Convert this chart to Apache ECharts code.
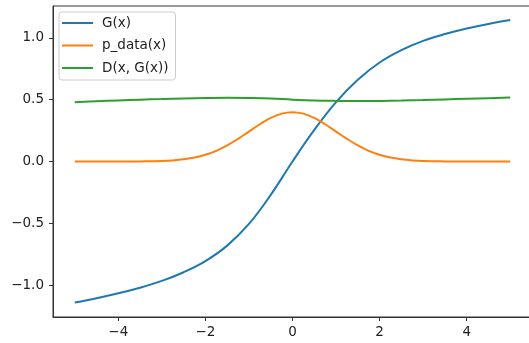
<!DOCTYPE html>
<html>
<head>
<meta charset="utf-8">
<script src="https://cdn.jsdelivr.net/npm/echarts@6/dist/echarts.min.js"></script>
<style>
  html, body { margin: 0; padding: 0; background: #fff; }
  #chart { width: 529px; height: 343px; }
</style>
</head>
<body>
<div id="chart"></div>
<script>
// values
var xCoarse = [-5, -4.5, -4, -3.5, -3, -2.5, -2, -1.5, -1, -0.5, 0, 0.5, 1, 1.5, 2, 2.5, 3, 3.5, 4, 4.5, 5];
var gValues = [-1.14, -1.105, -1.065, -1.02, -0.965, -0.895, -0.805, -0.68, -0.505, -0.27, 0.0, 0.255, 0.48, 0.66, 0.80, 0.90, 0.975, 1.03, 1.075, 1.112, 1.143];
var dValues = [0.478, 0.487, 0.494, 0.500, 0.505, 0.510, 0.513, 0.515, 0.514, 0.510, 0.500, 0.493, 0.490, 0.489, 0.490, 0.493, 0.497, 0.502, 0.507, 0.512, 0.518];

var xFine = [-5, -4.5, -4, -3.75, -3.5, -3.25, -3, -2.75, -2.5, -2.25, -2, -1.75, -1.5, -1.25, -1, -0.75, -0.5, -0.25, 0,
             0.25, 0.5, 0.75, 1, 1.25, 1.5, 1.75, 2, 2.25, 2.5, 2.75, 3, 3.25, 3.5, 3.75, 4, 4.5, 5];
var pValues = [0, 0, 0, 0, 0.001, 0.002, 0.004, 0.009, 0.018, 0.032, 0.054, 0.086, 0.130, 0.183, 0.242, 0.301, 0.352, 0.387, 0.399,
               0.387, 0.352, 0.301, 0.242, 0.183, 0.130, 0.086, 0.054, 0.032, 0.018, 0.009, 0.004, 0.002, 0.001, 0, 0, 0, 0];

var seriesNames = ['G(x)', 'p_data(x)', 'D(x, G(x))'];
var seriesColors = ['#1f77b4', '#ff7f0e', '#2ca02c'];
var xTicks = [-4, -2, 0, 2, 4];
var yTicks = [-1, -0.5, 0, 0.5, 1];

function pairs(xs, ys) {
  return xs.map(function (x, i) { return [x, ys[i]]; });
}
function minus(s) { return s.replace('-', '\u2212'); }

var myChart = echarts.init(document.getElementById('chart'));

var axisText = { color: '#222', fontSize: 13.5, fontFamily: 'DejaVu Sans' };
var lineIcon = 'path://M0,0H31V2H0Z';

var option = {
  animation: false,
  grid: {
    left: 53, top: 6, width: 479, height: 311,
    containLabel: false,
    outerBoundsMode: 'none',
    show: true,
    borderColor: '#333',
    borderWidth: 1
  },
  legend: {
    orient: 'vertical',
    left: 59, top: 12,
    itemWidth: 31, itemHeight: 2,
    itemGap: 8.5,
    padding: [4, 7, 5, 3],
    backgroundColor: 'rgba(255,255,255,0.8)',
    borderColor: '#ccc',
    borderWidth: 1,
    borderRadius: 3,
    textStyle: { color: '#222', fontSize: 13.5, fontFamily: 'DejaVu Sans', lineHeight: 14, padding: [0, 0, 0, 4] },
    data: seriesNames.map(function (n) { return { name: n, icon: lineIcon }; })
  },
  xAxis: {
    type: 'value',
    min: -5.5, max: 5.5,
    splitLine: { show: false },
    axisLine: { onZero: false, lineStyle: { color: '#333', width: 1 } },
    axisTick: { show: true, length: 4, customValues: xTicks, lineStyle: { color: '#333' } },
    axisLabel: Object.assign({
      margin: 8,
      customValues: xTicks,
      formatter: function (v) { return minus(String(v)); }
    }, axisText)
  },
  yAxis: {
    type: 'value',
    min: -1.257, max: 1.257,
    splitLine: { show: false },
    axisLine: { show: true, onZero: false, lineStyle: { color: '#333', width: 1 } },
    axisTick: { show: true, length: 4, customValues: yTicks, lineStyle: { color: '#333' } },
    axisLabel: Object.assign({
      margin: 9,
      customValues: yTicks,
      formatter: function (v) { return minus(v.toFixed(1)); }
    }, axisText)
  },
  series: [
    {
      name: seriesNames[0], type: 'line', data: pairs(xCoarse, gValues),
      symbol: 'none', smooth: 0.4, color: seriesColors[0], lineStyle: { width: 2 }
    },
    {
      name: seriesNames[1], type: 'line', data: pairs(xFine, pValues),
      symbol: 'none', smooth: 0.4, color: seriesColors[1], lineStyle: { width: 2 }
    },
    {
      name: seriesNames[2], type: 'line', data: pairs(xCoarse, dValues),
      symbol: 'none', smooth: 0.4, color: seriesColors[2], lineStyle: { width: 2 }
    }
  ]
};
myChart.setOption(option);
window.addEventListener('resize', function () {
  myChart.resize();
});
</script>
</body>
</html>
